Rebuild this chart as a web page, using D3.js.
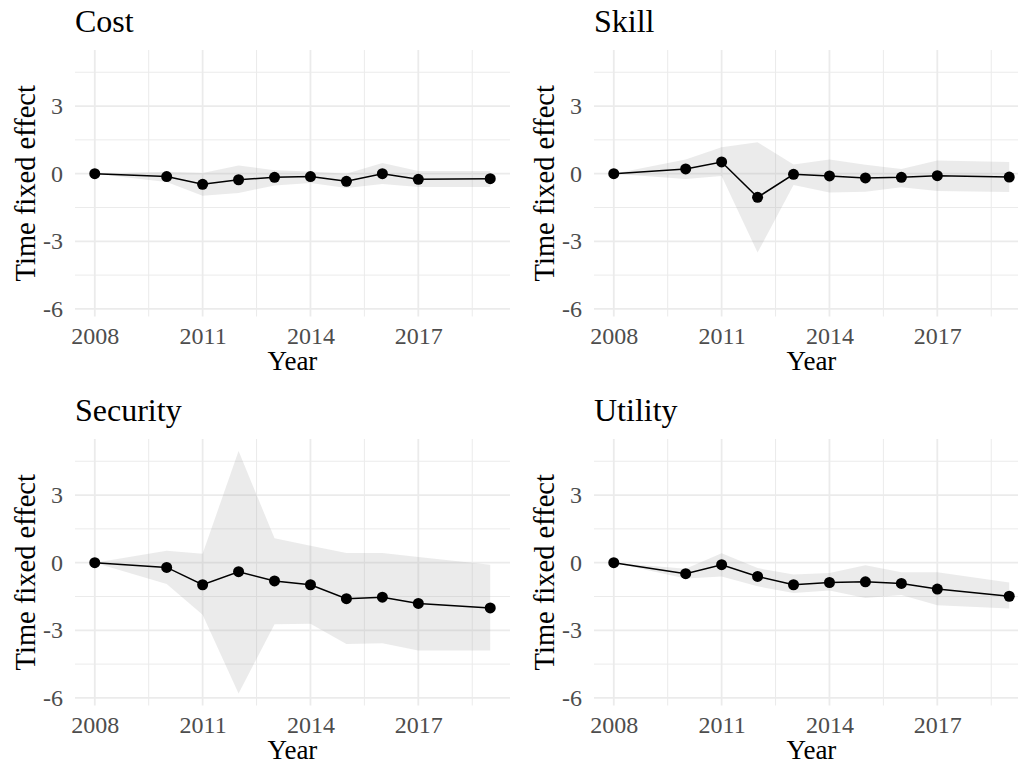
<!DOCTYPE html>
<html>
<head>
<meta charset="utf-8">
<script src="https://cdn.jsdelivr.net/npm/d3@7"></script>
<style>
  html, body { margin: 0; padding: 0; background: #ffffff; }
  svg { display: block; }
</style>
</head>
<body>
<svg id="chart" width="1018" height="764"></svg>
<script>
// ---- data ----
const years = [2008, 2010, 2011, 2012, 2013, 2014, 2015, 2016, 2017, 2019];
const panelNames = ["Cost", "Skill", "Security", "Utility"];

const costEst = [0, -0.13, -0.47, -0.27, -0.16, -0.13, -0.34, 0.0, -0.25, -0.22];
const costLo  = [0, -0.37, -0.98, -0.86, -0.52, -0.41, -0.64, -0.46, -0.59, -0.59];
const costHi  = [0, 0.09, 0.03, 0.36, 0.15, 0.10, 0.0, 0.47, 0.12, 0.12];

const skillEst = [0, 0.21, 0.52, -1.05, -0.03, -0.10, -0.19, -0.16, -0.09, -0.15];
const skillLo  = [0, -0.24, -0.10, -3.50, -0.50, -0.83, -0.80, -0.60, -0.77, -0.81];
const skillHi  = [0, 0.63, 1.17, 1.39, 0.41, 0.63, 0.40, 0.21, 0.59, 0.52];

const securityEst = [0, -0.21, -0.98, -0.40, -0.81, -0.98, -1.60, -1.53, -1.81, -2.01];
const securityLo  = [0, -0.95, -2.31, -5.80, -2.73, -2.71, -3.61, -3.57, -3.90, -3.90];
const securityHi  = [0, 0.53, 0.40, 4.95, 1.08, 0.75, 0.43, 0.43, 0.25, -0.09];

const utilityEst = [0, -0.49, -0.09, -0.61, -0.98, -0.88, -0.85, -0.92, -1.17, -1.49];
const utilityLo  = [0, -0.70, -0.61, -1.05, -1.35, -1.23, -1.57, -1.43, -1.89, -2.03];
const utilityHi  = [0, -0.27, 0.42, -0.24, -0.53, -0.46, -0.11, -0.42, -0.42, -0.88];

const xTicks = [2008, 2011, 2014, 2017];
const xMinorTicks = [2009.5, 2012.5, 2015.5, 2018.5];
const yTicks = [-6, -3, 0, 3];
const yMinorTicks = [-4.5, -1.5, 1.5, 4.5];

const xTitle = "Year";
const yTitle = "Time fixed effect";

// ---- build panel table ----
const series = [
  { name: panelNames[0], est: costEst, lo: costLo, hi: costHi },
  { name: panelNames[1], est: skillEst, lo: skillLo, hi: skillHi },
  { name: panelNames[2], est: securityEst, lo: securityLo, hi: securityHi },
  { name: panelNames[3], est: utilityEst, lo: utilityLo, hi: utilityHi }
];

// ---- layout ----
const panelW = 435, panelH = 266.5;
const panelLeft = [75, 594];
const panelTop = [50, 439];
const FONT = "'Liberation Serif', 'Times New Roman', serif";

// shared scales (ggplot-like 5% expansion)
const xExt = d3.extent(years);
const xPad = (xExt[1] - xExt[0]) * 0.05;
const allLo = d3.min(series, s => d3.min(s.lo));
const allHi = d3.max(series, s => d3.max(s.hi));
const yPad = (allHi - allLo) * 0.05;

const x = d3.scaleLinear().domain([xExt[0] - xPad, xExt[1] + xPad]).range([0, panelW]);
const y = d3.scaleLinear().domain([allLo - yPad, allHi + yPad]).range([panelH, 0]);

const svg = d3.select("#chart");
svg.append("rect").attr("width", 1018).attr("height", 764).attr("fill", "#ffffff");

series.forEach((s, i) => {
  const col = i % 2, row = Math.floor(i / 2);
  const g = svg.append("g")
    .attr("transform", `translate(${panelLeft[col]},${panelTop[row]})`);

  // minor grid
  g.append("g").selectAll("line").data(xMinorTicks).join("line")
    .attr("x1", d => x(d)).attr("x2", d => x(d))
    .attr("y1", 0).attr("y2", panelH)
    .attr("stroke", "#ebebeb").attr("stroke-width", 1.0);
  g.append("g").selectAll("line").data(yMinorTicks).join("line")
    .attr("x1", 0).attr("x2", panelW)
    .attr("y1", d => y(d)).attr("y2", d => y(d))
    .attr("stroke", "#ebebeb").attr("stroke-width", 1.0);
  // major grid
  g.append("g").selectAll("line").data(xTicks).join("line")
    .attr("x1", d => x(d)).attr("x2", d => x(d))
    .attr("y1", 0).attr("y2", panelH)
    .attr("stroke", "#ebebeb").attr("stroke-width", 1.8);
  g.append("g").selectAll("line").data(yTicks).join("line")
    .attr("x1", 0).attr("x2", panelW)
    .attr("y1", d => y(d)).attr("y2", d => y(d))
    .attr("stroke", "#ebebeb").attr("stroke-width", 1.8);

  const pts = years.map((yr, k) => ({ yr, est: s.est[k], lo: s.lo[k], hi: s.hi[k] }));

  // ribbon
  const area = d3.area().x(d => x(d.yr)).y0(d => y(d.lo)).y1(d => y(d.hi));
  g.append("path").datum(pts).attr("d", area)
    .attr("fill", "#999999").attr("fill-opacity", 0.2);

  // line
  const line = d3.line().x(d => x(d.yr)).y(d => y(d.est));
  g.append("path").datum(pts).attr("d", line)
    .attr("fill", "none").attr("stroke", "#000").attr("stroke-width", 1.5);

  // points
  g.append("g").selectAll("circle").data(pts).join("circle")
    .attr("cx", d => x(d.yr)).attr("cy", d => y(d.est))
    .attr("r", 5.5).attr("fill", "#000");

  // axes (labels only)
  const xAxis = d3.axisBottom(x).tickValues(xTicks).tickFormat(d => String(d))
    .tickSize(0).tickPadding(10.5);
  const xa = g.append("g").attr("transform", `translate(0,${panelH})`).call(xAxis);
  xa.select(".domain").remove();
  xa.selectAll("text").attr("font-family", FONT).attr("font-size", 24).attr("fill", "#4d4d4d");

  const yAxis = d3.axisLeft(y).tickValues(yTicks).tickFormat(d => String(d))
    .tickSize(0).tickPadding(12);
  const ya = g.append("g").call(yAxis);
  ya.select(".domain").remove();
  ya.selectAll("text").attr("font-family", FONT).attr("font-size", 24).attr("fill", "#4d4d4d");

  // axis titles
  g.append("text").attr("x", panelW / 2).attr("y", panelH + 53.5)
    .attr("text-anchor", "middle").attr("font-family", FONT).attr("font-size", 27)
    .attr("fill", "#000").text(xTitle);
  g.append("text")
    .attr("transform", `translate(-40.5,${panelH / 2}) rotate(-90)`)
    .attr("text-anchor", "middle").attr("font-family", FONT).attr("font-size", 28.5)
    .attr("fill", "#000").text(yTitle);

  // panel title
  g.append("text").attr("x", 0).attr("y", -18)
    .attr("font-family", FONT).attr("font-size", 32)
    .attr("fill", "#000").text(s.name);
});
</script>
</body>
</html>
